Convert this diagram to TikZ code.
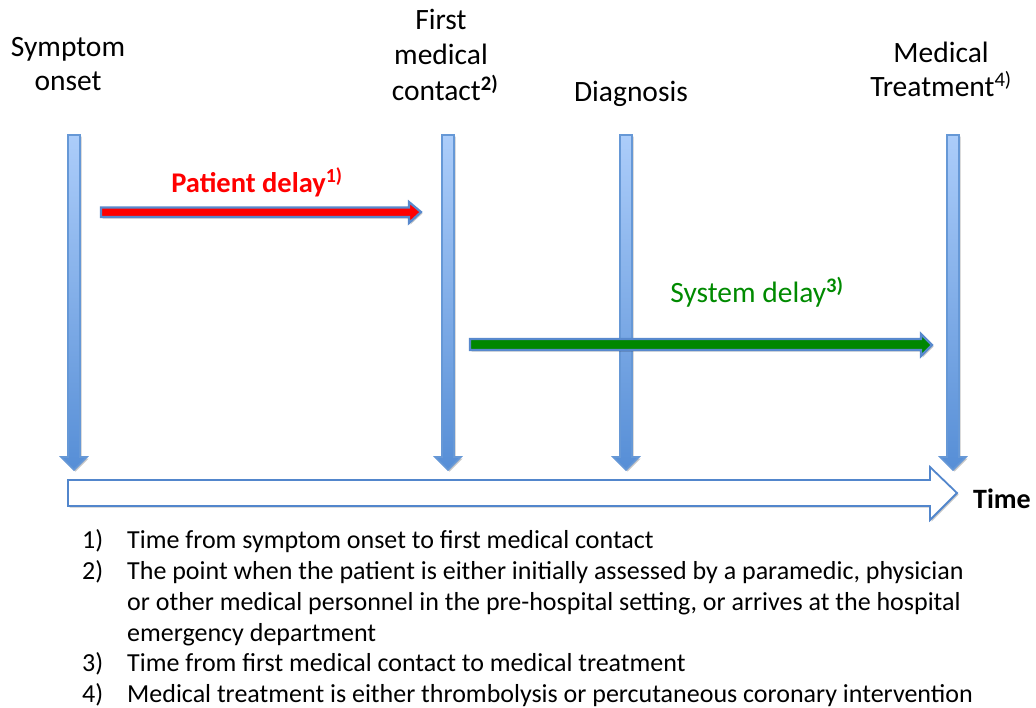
\documentclass[tikz,border=0pt]{standalone}
\usepackage{fontspec}
\setmainfont{Carlito}
\usetikzlibrary{shadows}

\definecolor{shaftlight}{RGB}{172,205,250}
\definecolor{shaftdark}{RGB}{86,142,214}
\definecolor{markedge}{RGB}{102,152,214}
\definecolor{arrowedge}{RGB}{88,137,205}
\definecolor{timeedge}{RGB}{82,134,204}
\definecolor{delayred}{RGB}{255,0,0}
\definecolor{delaygreen}{RGB}{0,138,0}
\definecolor{arrowgreen}{RGB}{0,135,0}

\newcommand{\supnote}[1]{\textsuperscript{#1}}

\tikzset{
  softshadow/.style={drop shadow={shadow xshift=1.5pt,shadow yshift=-1.5pt,opacity=0.22,fill=black}},
  markerarrow/.style={softshadow,top color=shaftlight,bottom color=shaftdark,draw=markedge,line width=1.6pt,line join=miter},
  delayarrow/.style={softshadow,draw=arrowedge,line width=2.2pt,line join=miter},
  timearrow/.style={softshadow,fill=white,draw=timeedge,line width=1.8pt,line join=miter},
  toplabel/.style={inner sep=0pt,anchor=base,font=\fontsize{29.5}{35}\selectfont},
  notenum/.style={inner sep=0pt,anchor=base west,font=\fontsize{26}{31}\selectfont},
  notetext/.style={inner sep=0pt,anchor=base west,align=left,font=\fontsize{26}{31}\selectfont},
  % vertical marker arrow hanging down from the point where it is placed
  pics/timemark/.style={code={
    \path[markerarrow] (-6,0) -- (6,0) -- (6,322) -- (13,322) -- (0,335)
      -- (-13,322) -- (-6,322) -- cycle;
  }}
}

\begin{document}
\begin{tikzpicture}[x=1pt,y=-1pt]
\useasboundingbox (0,0) rectangle (1036,707);

% time axis
\path[timearrow] (68,480) -- (930,480) -- (930,467) -- (957,493)
  -- (930,520) -- (930,506) -- (68,506) -- cycle;
\node[inner sep=0pt,anchor=base west,font=\fontsize{28}{35}\selectfont\bfseries] (time) at (973,508) {Time};

% event markers
\pic (onsetmark) at (74,135) {timemark};
\pic (contactmark) at (448,135) {timemark};
\pic (diagmark) at (626,135) {timemark};
\pic (treatmark) at (953,135) {timemark};

% event labels
\node[toplabel] (onset1) at (68,56) {Symptom};
\node[toplabel] (onset2) at (68,90) {onset};
\node[toplabel] (contact1) at (441,29) {First};
\node[toplabel] (contact2) at (441,64) {medical};
\node[toplabel] (contact3) at (445,100) {contact\supnote{\bfseries 2)}};
\node[toplabel] (diag) at (631,101) {Diagnosis};
\node[toplabel] (treat1) at (941,62) {Medical};
\node[toplabel] (treat2) at (941,96) {Treatment\supnote{4)}};

% patient delay
\path[delayarrow,fill=delayred] (101,207.5) -- (409,207.5) -- (409,202) -- (421,212)
  -- (409,223) -- (409,217) -- (101,217) -- cycle;
\node[toplabel,text=delayred,font=\fontsize{28.5}{30}\selectfont\bfseries] (patdelay) at (257,192) {Patient delay\supnote{1)}};

% system delay
\path[delayarrow,fill=arrowgreen] (470,339) -- (921,339) -- (921,334) -- (932,345)
  -- (921,356) -- (921,350) -- (470,350) -- cycle;
\node[toplabel,text=delaygreen] (sysdelay) at (757,302) {System delay\supnote{\bfseries 3)}};

% notes
\node[notenum] (n1) at (82,548) {1)};
\node[notetext] (t1) at (127,548) {Time from symptom onset to first medical contact};
\node[notenum] (n2) at (82,579) {2)};
\node[notetext] (t2) at (127,641) {The point when the patient is either initially assessed by a paramedic, physician\\or other medical personnel in the pre-hospital setting, or arrives at the hospital\\emergency department};
\node[notenum] (n3) at (82,671) {3)};
\node[notetext] (t3) at (127,671) {Time from first medical contact to medical treatment};
\node[notenum] (n4) at (82,702) {4)};
\node[notetext] (t4) at (127,702) {Medical treatment is either thrombolysis or percutaneous coronary intervention};
\end{tikzpicture}
\end{document}
